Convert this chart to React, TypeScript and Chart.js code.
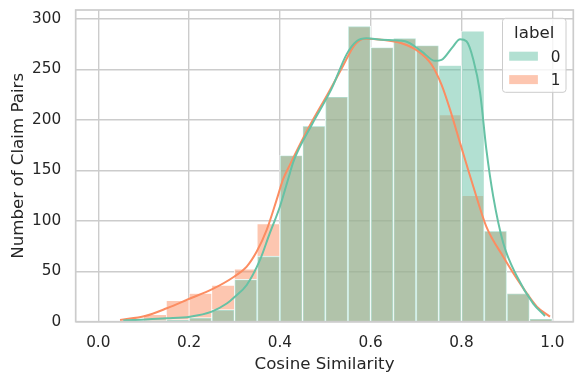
import React, { useEffect, useRef } from "react";
import { Chart, registerables } from "chart.js";

Chart.register(...registerables);

// ---- data ----
const binCenters = [0.125, 0.175, 0.225, 0.275, 0.325, 0.375, 0.425, 0.475, 0.525, 0.575, 0.625, 0.675, 0.725, 0.775, 0.825, 0.875, 0.925, 0.975];
const countsLabel0 = [1, 2, 4, 12, 42, 65, 165, 194, 223, 293, 272, 281, 274, 254, 288, 90, 28, 3];
const countsLabel1 = [7, 21, 28, 36, 52, 97, 165, 194, 223, 293, 272, 281, 274, 205, 125, 90, 28, 3];

const kde0X = [0.055, 0.077, 0.151, 0.202, 0.25, 0.283, 0.299, 0.327, 0.356, 0.378, 0.4, 0.418, 0.43, 0.47, 0.514, 0.547, 0.569, 0.591, 0.624, 0.676, 0.712, 0.742, 0.756, 0.78, 0.797, 0.811, 0.826, 0.841, 0.855, 0.87, 0.892, 0.922, 0.958, 0.984];
const kde0Y = [1.2, 1.7, 3.3, 5, 10, 18, 24, 36.4, 61, 88, 114, 141, 159, 195, 231, 265, 278, 281, 279.5, 278, 268, 258.6, 259.6, 272, 280, 278, 260, 227, 170, 124, 78, 45, 18, 5.7];

const kde1X = [0.048, 0.103, 0.151, 0.202, 0.25, 0.299, 0.327, 0.349, 0.371, 0.393, 0.407, 0.422, 0.463, 0.507, 0.536, 0.565, 0.587, 0.624, 0.668, 0.705, 0.734, 0.756, 0.775, 0.797, 0.826, 0.855, 0.892, 0.929, 0.966, 0.995];
const kde1Y = [1.7, 5.6, 13.3, 23, 32, 44.6, 54.6, 69.5, 91, 121, 141, 155.5, 192, 227, 251, 274.5, 280.5, 279.5, 276, 268, 255, 235, 210, 177, 134, 94, 64.5, 38, 15, 5];

const xTicks = [0, 0.2, 0.4, 0.6, 0.8, 1.0];
const yTicks = [0, 50, 100, 150, 200, 250, 300];
const legendTitle = "label";
const legendLabels = ["0", "1"];
const xTitle = "Cosine Similarity";
const yTitle = "Number of Claim Pairs";

const GREEN = "rgb(102,194,165)";
const ORANGE = "rgb(252,141,98)";
const GREEN_A = "rgba(102,194,165,0.5)";
const ORANGE_A = "rgba(252,141,98,0.5)";
const FONT = "'DejaVu Sans', sans-serif";
const TEXT = "#262626";
const GRID = "#cccccc";

const spinesPlugin = {
  id: "spines",
  afterDatasetsDraw(chart: any) {
    const { ctx, chartArea: a } = chart;
    ctx.save();
    ctx.strokeStyle = GRID;
    ctx.lineWidth = 1.7;
    ctx.strokeRect(a.left, a.top, a.right - a.left, a.bottom - a.top);
    ctx.restore();
  },
};

const legendPlugin = {
  id: "seabornLegend",
  afterDraw(chart: any) {
    const { ctx, chartArea: a } = chart;
    const w = 63.5;
    const h = 74;
    const x = a.right - 7.3 - w;
    const y = a.top + 8.3;
    ctx.save();
    ctx.beginPath();
    ctx.roundRect(x, y, w, h, 3);
    ctx.fillStyle = "rgba(255,255,255,0.8)";
    ctx.fill();
    ctx.strokeStyle = GRID;
    ctx.lineWidth = 1;
    ctx.stroke();
    ctx.fillStyle = TEXT;
    ctx.font = `16.67px ${FONT}`;
    ctx.textAlign = "center";
    ctx.textBaseline = "alphabetic";
    ctx.fillText(legendTitle, x + w / 2, y + 20);
    const colors = [GREEN_A, ORANGE_A];
    ctx.font = `15.28px ${FONT}`;
    ctx.textAlign = "left";
    legendLabels.forEach((lab, i) => {
      const py = y + 33.4 + i * 23.4;
      ctx.fillStyle = colors[i];
      ctx.fillRect(x + 6.7, py, 28.7, 9);
      ctx.fillStyle = TEXT;
      ctx.fillText(lab, x + 48.2, py + 10);
    });
    ctx.restore();
  },
};

const zeroPad = (s: any) => {
  s.paddingTop = 0;
  s.paddingBottom = 0;
  s.paddingLeft = 0;
  s.paddingRight = 0;
};

export default function App() {
  const ref = useRef<HTMLCanvasElement | null>(null);

  useEffect(() => {
    document.body.style.margin = "0";
    if (!ref.current) return;
    const chart = new Chart(ref.current, {
      type: "bar",
      data: {
        datasets: [
          {
            type: "line",
            label: "kde 0",
            data: kde0X.map((x, i) => ({ x, y: kde0Y[i] })),
            borderColor: GREEN,
            borderWidth: 2,
            pointRadius: 0,
            cubicInterpolationMode: "monotone",
            order: 0,
          },
          {
            type: "line",
            label: "kde 1",
            data: kde1X.map((x, i) => ({ x, y: kde1Y[i] })),
            borderColor: ORANGE,
            borderWidth: 2,
            pointRadius: 0,
            cubicInterpolationMode: "monotone",
            order: 1,
          },
          {
            type: "bar",
            label: "0",
            data: binCenters.map((x, i) => ({ x, y: countsLabel0[i] })),
            backgroundColor: GREEN_A,
            borderColor: "#ffffff",
            borderWidth: { left: 0.7, right: 0.7, top: 0.7, bottom: 0 },
            borderSkipped: "start",
            barPercentage: 1,
            categoryPercentage: 1,
            grouped: false,
            order: 2,
          },
          {
            type: "bar",
            label: "1",
            data: binCenters.map((x, i) => ({ x, y: countsLabel1[i] })),
            backgroundColor: ORANGE_A,
            borderColor: "#ffffff",
            borderWidth: { left: 0.7, right: 0.7, top: 0.7, bottom: 0 },
            borderSkipped: "start",
            barPercentage: 1,
            categoryPercentage: 1,
            grouped: false,
            order: 3,
          },
        ] as any,
      },
      options: {
        responsive: false,
        animation: false,
        devicePixelRatio: 1,
        layout: { padding: { top: 10, right: 10.7, left: 0, bottom: 0 } },
        plugins: { legend: { display: false }, tooltip: { enabled: false } },
        scales: {
          x: {
            type: "linear",
            min: -0.0497,
            max: 1.0463,
            offset: false,
            afterBuildTicks: (s: any) => {
              s.ticks = xTicks.map((v) => ({ value: v }));
            },
            afterFit: (s: any) => {
              s.height = 62.3;
              zeroPad(s);
            },
            grid: { color: GRID, lineWidth: 1.4, drawTicks: false, offset: false },
            border: { display: false },
            ticks: {
              padding: 12,
              color: TEXT,
              font: { family: FONT, size: 15.28 },
              maxRotation: 0,
              autoSkip: false,
              callback: (v: any) => Number(v).toFixed(1),
            },
            title: {
              display: true,
              text: xTitle,
              color: TEXT,
              font: { family: FONT, size: 16.67, lineHeight: 1.2 },
              padding: { top: 0, bottom: 9.3 },
            },
          },
          y: {
            type: "linear",
            min: 0,
            max: 309,
            afterBuildTicks: (s: any) => {
              s.ticks = yTicks.map((v) => ({ value: v }));
            },
            afterFit: (s: any) => {
              s.width = 75.7;
              zeroPad(s);
            },
            grid: { color: GRID, lineWidth: 1.4, drawTicks: false },
            border: { display: false },
            ticks: {
              padding: 14.5,
              color: TEXT,
              font: { family: FONT, size: 15.28 },
              autoSkip: false,
              callback: (v: any) => String(v),
            },
            title: {
              display: true,
              text: yTitle,
              color: TEXT,
              font: { family: FONT, size: 16.67, lineHeight: 1.2 },
              padding: { top: 9, bottom: 0 },
            },
          },
        },
      } as any,
      plugins: [spinesPlugin, legendPlugin],
    });
    return () => chart.destroy();
  }, []);

  return (
    <div style={{ width: 584, height: 384 }}>
      <canvas ref={ref} width={584} height={384} style={{ display: "block" }} />
    </div>
  );
}
